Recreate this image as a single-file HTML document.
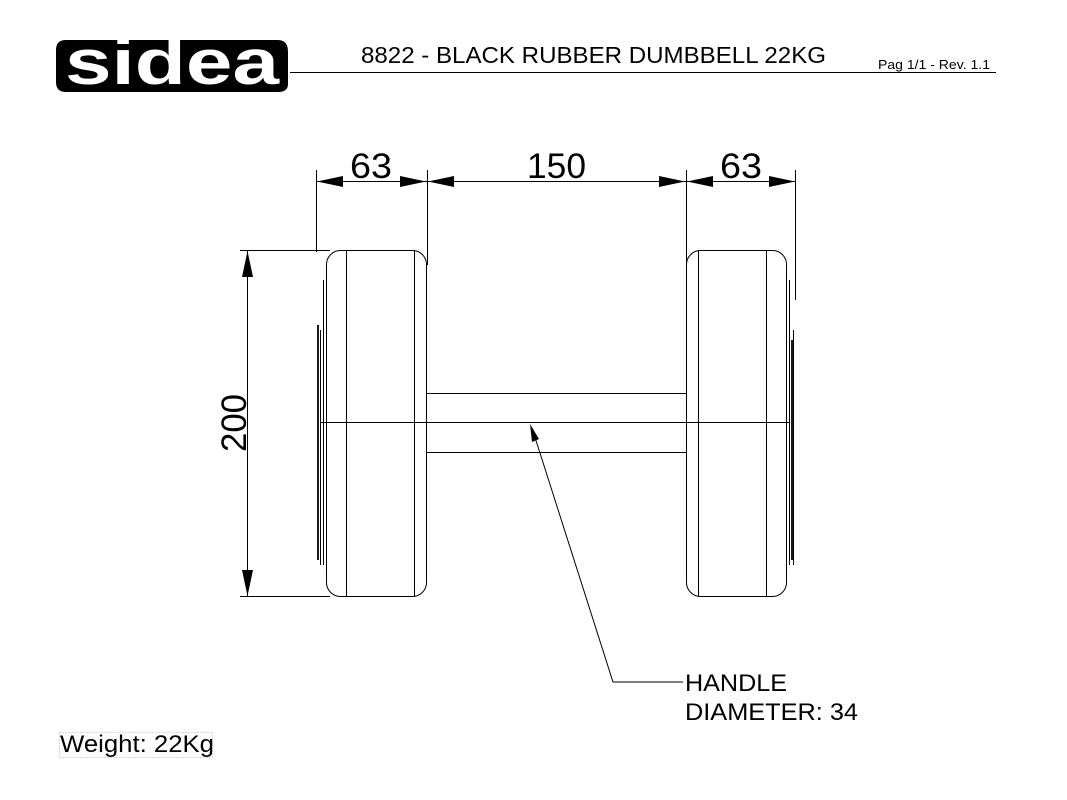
<!DOCTYPE html>
<html><head><meta charset="utf-8"><style>
html,body{margin:0;padding:0;background:#fff;width:1067px;height:800px;overflow:hidden}
</style></head><body>
<svg width="1067" height="800" viewBox="0 0 1067 800" xmlns="http://www.w3.org/2000/svg" font-family="Liberation Sans, sans-serif">
<path d="M62 40 H278 Q288 40 288 52 V84 Q288 92 278 92 H66 Q56 92 56 82 V50 Q56 40 66 40Z" fill="#000"/>
<text x="172" y="84" text-anchor="middle" font-size="64" font-weight="bold" fill="#fff" textLength="214" lengthAdjust="spacingAndGlyphs">sidea</text>
<text x="361" y="63" font-size="23" textLength="465" lengthAdjust="spacingAndGlyphs">8822 - BLACK RUBBER DUMBBELL 22KG</text>
<text x="878" y="69" font-size="12.5" textLength="112" lengthAdjust="spacingAndGlyphs">Pag 1/1 - Rev. 1.1</text>
<line x1="290" y1="72.5" x2="996" y2="72.5" stroke="#000" stroke-width="1"/>
<g stroke="#000" stroke-width="1" fill="none">
<line x1="316.5" y1="170" x2="316.5" y2="252"/>
<line x1="427.5" y1="170" x2="427.5" y2="265"/>
<line x1="686.5" y1="170" x2="686.5" y2="265"/>
<line x1="795.5" y1="170" x2="795.5" y2="300"/>
<line x1="316" y1="181.5" x2="795" y2="181.5"/>
<line x1="240" y1="250.5" x2="330" y2="250.5"/>
<line x1="240" y1="596.5" x2="330" y2="596.5"/>
<line x1="247.5" y1="250" x2="247.5" y2="596"/>
<rect x="326.5" y="250.5" width="100" height="346" rx="14"/>
<line x1="346.5" y1="251" x2="346.5" y2="596"/>
<line x1="414.5" y1="251" x2="414.5" y2="596"/>
<line x1="323.5" y1="280" x2="323.5" y2="565"/>
<line x1="320.5" y1="330" x2="320.5" y2="565"/>
<rect x="686.5" y="250.5" width="100" height="346" rx="14"/>
<line x1="698.5" y1="251" x2="698.5" y2="596"/>
<line x1="766.5" y1="251" x2="766.5" y2="596"/>
<line x1="789.5" y1="280" x2="789.5" y2="565"/>
<line x1="793.5" y1="330" x2="793.5" y2="565"/>
<line x1="427" y1="393.5" x2="686" y2="393.5"/>
<line x1="427" y1="452.5" x2="686" y2="452.5"/>
<line x1="320" y1="422.5" x2="790" y2="422.5"/>
<polyline points="532,428 613,682 683,682"/>
</g>
<g stroke="#000" stroke-width="1.8">
<line x1="318" y1="325" x2="318" y2="560"/>
<line x1="792" y1="340" x2="792" y2="560"/>
</g>
<g fill="#000">
<polygon points="317,181.5 343,176 343,187"/>
<polygon points="426,181.5 400,176 400,187"/>
<polygon points="428,181.5 454,176 454,187"/>
<polygon points="685,181.5 659,176 659,187"/>
<polygon points="687,181.5 713,176 713,187"/>
<polygon points="795,181.5 769,176 769,187"/>
<polygon points="247.5,251 242,277 253,277"/>
<polygon points="247.5,596 242,570 253,570"/>
<polygon points="530,424 532,442 539,439"/>
</g>
<g font-size="35">
<text x="350" y="178" textLength="42" lengthAdjust="spacingAndGlyphs">63</text>
<text x="527" y="178" textLength="59" lengthAdjust="spacingAndGlyphs">150</text>
<text x="720" y="178" textLength="42" lengthAdjust="spacingAndGlyphs">63</text>
<text transform="translate(246,452) rotate(-90)" textLength="58" lengthAdjust="spacingAndGlyphs">200</text>
</g>
<text x="685" y="691" font-size="24" textLength="102" lengthAdjust="spacingAndGlyphs">HANDLE</text>
<text x="685" y="720" font-size="24" textLength="173" lengthAdjust="spacingAndGlyphs">DIAMETER: 34</text>
<text x="60" y="752" font-size="24" textLength="154" lengthAdjust="spacingAndGlyphs">Weight: 22Kg</text>
<rect x="59.5" y="732.5" width="153" height="25" fill="none" stroke="#999" stroke-width="0.8" stroke-dasharray="1,2"/>
</svg>
</body></html>
